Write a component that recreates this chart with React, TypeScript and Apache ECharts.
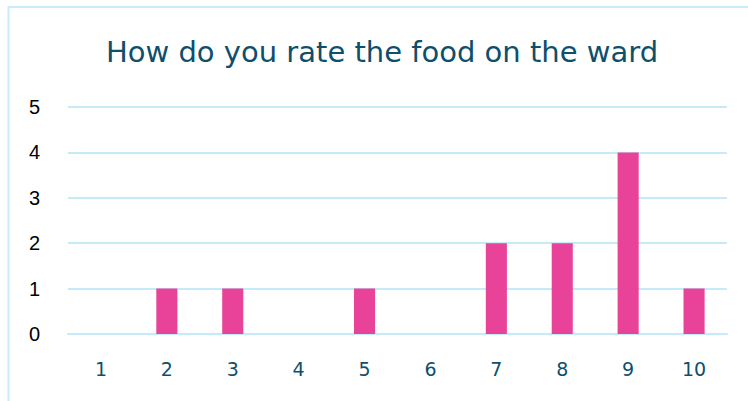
import React, { useEffect, useRef } from "react";
import * as echarts from "echarts";

const categories = ["1", "2", "3", "4", "5", "6", "7", "8", "9", "10"];
const counts = [0, 1, 1, 0, 1, 0, 2, 2, 4, 1];
const titleText = "How do you rate the food on the ward";

export default function App() {
  const ref = useRef<HTMLDivElement>(null);
  useEffect(() => {
    if (!ref.current) return;
    const chart = echarts.init(ref.current, undefined, { renderer: "svg" });
    chart.setOption({
      animation: false,
      backgroundColor: "#ffffff",
      title: {
        text: titleText,
        left: 377,
        textAlign: "center",
        top: 32,
        textStyle: {
          fontFamily: "DejaVu Sans",
          fontSize: 29,
          fontWeight: "normal",
          color: "#0D4F6C",
        },
      },
      graphic: [
        {
          type: "rect",
          shape: { x: 8.5, y: 7, width: 760, height: 420 },
          style: { fill: "none", stroke: "#C8ECFA", lineWidth: 2 },
          silent: true,
        },
      ],
      grid: { left: 68, right: 21, top: 107, bottom: 67, containLabel: false },
      xAxis: {
        type: "category",
        data: categories,
        axisLine: { show: true, lineStyle: { color: "#C5EAF8", width: 2 } },
        axisTick: { show: false },
        axisLabel: {
          margin: 25,
          fontFamily: "DejaVu Sans",
          fontSize: 19,
          color: "#0D4F6C",
        },
      },
      yAxis: {
        type: "value",
        min: 0,
        max: 5,
        interval: 1,
        axisLine: { show: false },
        axisTick: { show: false },
        splitLine: { lineStyle: { color: "#C5EAF8", width: 2 } },
        axisLabel: {
          margin: 28,
          fontFamily: "Liberation Sans",
          fontSize: 20,
          color: "#000000",
        },
      },
      series: [
        {
          type: "bar",
          data: counts,
          barWidth: "32%",
          itemStyle: { color: "#E84398" },
        },
      ],
    });
    return () => chart.dispose();
  }, []);
  return (
    <div
      ref={ref}
      style={{ position: "fixed", left: 0, top: 0, width: 748, height: 401 }}
    />
  );
}
